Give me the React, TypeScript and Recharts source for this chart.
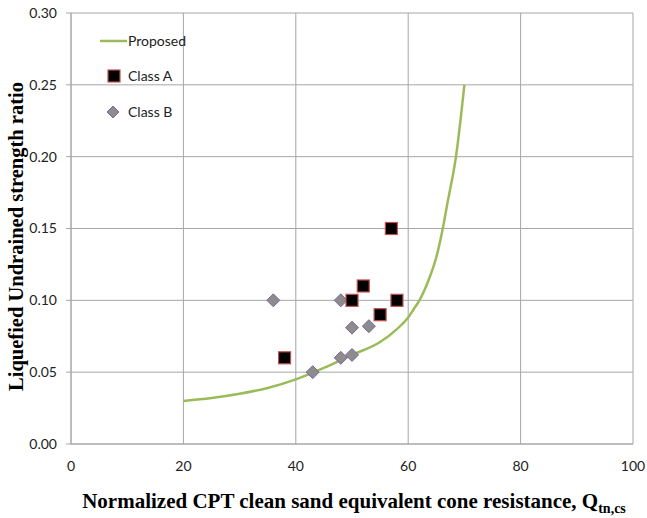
import React from "react";
import {
  ComposedChart,
  Line,
  Scatter,
  XAxis,
  YAxis,
  CartesianGrid,
  Label,
} from "recharts";

// Proposed curve
const curveQ = [20, 25, 30, 35, 40, 45, 50, 55, 58, 60, 61, 62, 63, 64, 65, 66, 67, 68.5, 70];
const curveRatio = [0.03, 0.032, 0.035, 0.039, 0.045, 0.053, 0.062, 0.071, 0.08, 0.088, 0.094, 0.1, 0.108, 0.118, 0.13, 0.147, 0.168, 0.2, 0.25];

// Class A case histories
const classAQ = [57, 52, 50, 58, 55, 38];
const classARatio = [0.15, 0.11, 0.1, 0.1, 0.09, 0.06];

// Class B case histories
const classBQ = [36, 48, 50, 53, 48, 50, 43];
const classBRatio = [0.1, 0.1, 0.081, 0.082, 0.06, 0.062, 0.05];

const xTicks = [0, 20, 40, 60, 80, 100];
const yTicks = [0, 0.05, 0.1, 0.15, 0.2, 0.25, 0.3];

const curve = curveQ.map((x, i) => ({ x, y: curveRatio[i] }));
const classA = classAQ.map((x, i) => ({ x, y: classARatio[i] }));
const classB = classBQ.map((x, i) => ({ x, y: classBRatio[i] }));

const GREEN = "#9bbb59";
const GRID = "#a6a6a6";
const TICK_FONT = "Lato, 'Open Sans', sans-serif";
const TITLE_FONT = "'Liberation Serif', 'Times New Roman', serif";

const Square = (props: any) => {
  const { cx, cy } = props;
  if (cx == null || cy == null) return null;
  const s = 12;
  return (
    <rect x={cx - s / 2} y={cy - s / 2} width={s} height={s} fill="#000" stroke="#c0504d" strokeWidth={1.2} />
  );
};

const Diamond = (props: any) => {
  const { cx, cy } = props;
  if (cx == null || cy == null) return null;
  const r = 6.5;
  return (
    <polygon
      points={`${cx},${cy - r} ${cx + r},${cy} ${cx},${cy + r} ${cx - r},${cy}`}
      fill="#8c8c8c"
      stroke="#8064a2"
      strokeWidth={1}
    />
  );
};

// legend drawn as an overlay in the upper left of the plot
const LegendBox = () => (
  <svg width={120} height={100} style={{ position: "absolute", left: 100, top: 33, overflow: "visible" }}>
    <line x1={0} y1={8} x2={27} y2={8} stroke={GREEN} strokeWidth={2.5} />
    <text x={28} y={13} fontSize={14} fontFamily={TICK_FONT} fill="#222">Proposed</text>
    <rect x={8} y={37} width={12} height={12} fill="#000" stroke="#c0504d" strokeWidth={1.2} />
    <text x={28} y={48} fontSize={14} fontFamily={TICK_FONT} fill="#222">Class A</text>
    <polygon points="13,73 19,79 13,85 7,79" fill="#8c8c8c" stroke="#8064a2" strokeWidth={1} />
    <text x={28} y={84} fontSize={14} fontFamily={TICK_FONT} fill="#222">Class B</text>
  </svg>
);

const XTitle = (props: any) => {
  const { viewBox } = props;
  const cx = viewBox.x + viewBox.width / 2;
  return (
    <text x={cx + 2} y={508} textAnchor="middle" fontFamily={TITLE_FONT} fontWeight="bold" fontSize={21} fill="#000">
      Normalized CPT clean sand equivalent cone resistance, Q
      <tspan fontSize={14} dy={5}>tn,cs</tspan>
    </text>
  );
};

const YTitle = (props: any) => {
  const { viewBox } = props;
  const cy = viewBox.y + viewBox.height / 2 + 8;
  return (
    <text
      x={23}
      y={cy}
      transform={`rotate(-90, 23, ${cy})`}
      textAnchor="middle"
      fontFamily={TITLE_FONT}
      fontWeight="bold"
      fontSize={20.5}
      fill="#000"
    >
      Liquefied Undrained strength ratio
    </text>
  );
};

export default function App() {
  return (
    <div style={{ position: "absolute", left: 0, top: 0, background: "#fff" }}>
      <ComposedChart width={647} height={518} margin={{ top: 13, right: 14, left: 0, bottom: 0 }}>
        <CartesianGrid stroke={GRID} strokeWidth={1} />
        <XAxis
          type="number"
          dataKey="x"
          domain={[0, 100]}
          ticks={xTicks}
          height={74}
          axisLine={{ stroke: GRID }}
          tickLine={false}
          tickSize={0}
          tickMargin={17}
          tick={{ fill: "#222", fontSize: 14, fontFamily: TICK_FONT }}
        >
          <Label content={<XTitle />} />
        </XAxis>
        <YAxis
          type="number"
          dataKey="y"
          domain={[0, 0.3]}
          ticks={yTicks}
          width={71}
          axisLine={{ stroke: GRID }}
          tickLine={{ stroke: GRID }}
          tickSize={5}
          tickMargin={9}
          tickFormatter={(v: number) => v.toFixed(2)}
          tick={{ fill: "#222", fontSize: 14, fontFamily: TICK_FONT }}
        >
          <Label content={<YTitle />} />
        </YAxis>
        <Line
          data={curve}
          dataKey="y"
          type="monotone"
          stroke={GREEN}
          strokeWidth={2.5}
          dot={false}
          activeDot={false}
          isAnimationActive={false}
          legendType="none"
        />
        <Scatter data={classB} dataKey="y" shape={<Diamond />} isAnimationActive={false} />
        <Scatter data={classA} dataKey="y" shape={<Square />} isAnimationActive={false} />
      </ComposedChart>
      <LegendBox />
    </div>
  );
}
